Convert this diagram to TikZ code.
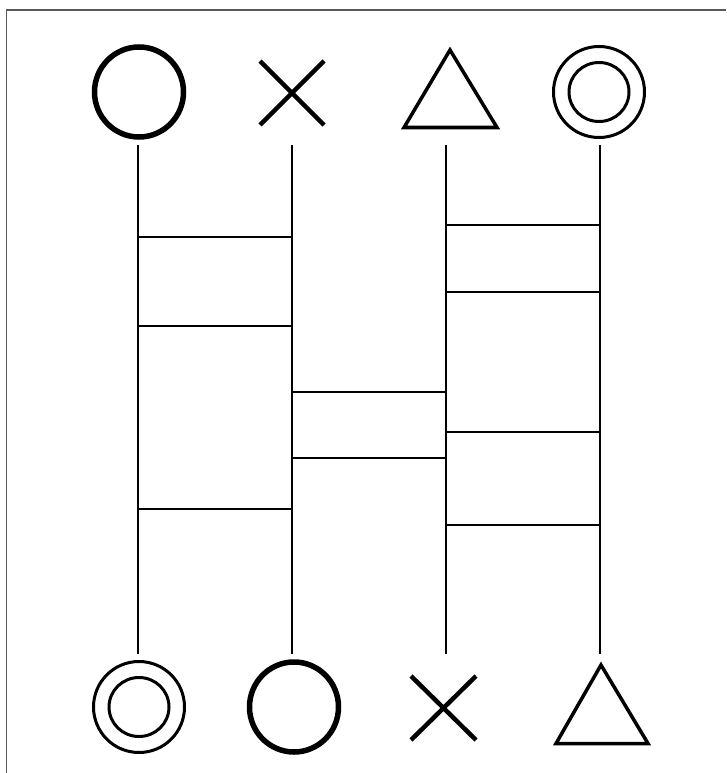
\documentclass[tikz,border=0pt]{standalone}
\begin{document}
\begin{tikzpicture}[x=1pt,y=-1pt,
  leg/.style={line width=1.5pt,black},
  rung/.style={line width=1.5pt,black},
  thickO/.style={line width=5.5pt},
  dblO/.style={line width=3pt},
  crossX/.style={line width=4.5pt},
  tri/.style={line width=3.5pt,line join=miter},
  frame/.style={line width=1.3pt,black!65}]
\useasboundingbox (0,0) rectangle (726,773);
% frame
\coordinate (fa) at (726,10);
\coordinate (fb) at (6.5,10);
\coordinate (fc) at (6.5,773);
\draw[frame] (fa) -- (fb) -- (fc);
% top symbols
\draw[thickO] (139,92) ellipse [x radius=44.5,y radius=45];
\draw[crossX] (260,61) -- (324,125) (324,61) -- (260,125);
\draw[tri] (450,50) -- (497,127.5) -- (404,127.5) -- cycle;
\draw[dblO] (599,92) ellipse [x radius=45.5,y radius=45.5];
\draw[dblO] (599,92) ellipse [x radius=30,y radius=29.5];
% bottom symbols
\draw[dblO] (139,707) ellipse [x radius=45.5,y radius=45.5];
\draw[dblO] (139,707) ellipse [x radius=30,y radius=29.5];
\draw[thickO] (294,707) ellipse [x radius=44.5,y radius=45];
\draw[crossX] (411,676) -- (476,740) (476,676) -- (411,740);
\draw[tri] (601,665) -- (648,743.5) -- (556,743.5) -- cycle;
% legs
\foreach \i/\x in {1/138,2/292,3/446,4/600}{
  \coordinate (t\i) at (\x,145);
  \coordinate (b\i) at (\x,654);
  \draw[leg] (t\i) -- (b\i);
}
% rungs
\foreach \a/\b/\y in {1/2/237,1/2/326,1/2/509,2/3/392,2/3/458,3/4/225,3/4/292,3/4/432,3/4/525}{
  \coordinate (r\a\b\y a) at (t\a |- 0,\y);
  \coordinate (r\a\b\y b) at (t\b |- 0,\y);
  \draw[rung] (r\a\b\y a) -- (r\a\b\y b);
}
\end{tikzpicture}
\end{document}
